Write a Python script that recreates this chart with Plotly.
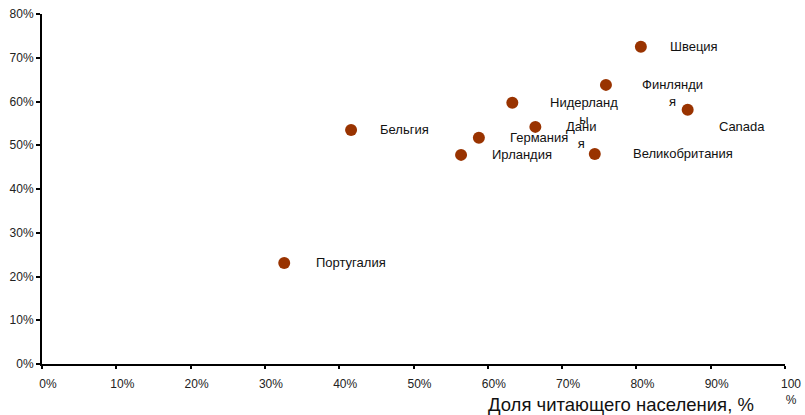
import plotly.graph_objects as go

countries = ["Португалия", "Бельгия", "Ирландия", "Германия", "Нидерланды",
             "Дания", "Великобритания", "Финляндия", "Швеция", "Canada"]
label_text = ["Португалия", "Бельгия", "Ирландия", "Германия", "Нидерланд<br>ы",
              "Дани<br>я", "Великобритания", "Финлянди<br>я", "Швеция", "Canada"]
reading_share = [32.6, 41.6, 56.4, 58.8, 63.3, 66.4, 74.4, 75.9, 80.6, 86.9]
y_values = [23.1, 53.5, 47.8, 51.7, 59.7, 54.2, 48.0, 63.8, 72.5, 58.1]

x_ticks = [0, 10, 20, 30, 40, 50, 60, 70, 80, 90, 100]
x_ticktext = ["0%", "10%", "20%", "30%", "40%", "50%", "60%", "70%", "80%", "90%", "100<br>%"]
y_ticks = [0, 10, 20, 30, 40, 50, 60, 70, 80]
y_ticktext = ["0%", "10%", "20%", "30%", "40%", "50%", "60%", "70%", "80%"]

# label offsets in pixels (layout only)
label_dx = [31, 28, 30, 30, 37, 30, 37, 35, 28, 30]
label_dy = [0, 0, 0, 0, 0, 0, 0, 0, 0, -17]

FONT = "Liberation Sans, Arial, sans-serif"

fig = go.Figure()
fig.add_trace(go.Scatter(
    x=reading_share, y=y_values, mode="markers",
    marker=dict(color="#993300", size=12, line=dict(width=0)),
    text=countries, hoverinfo="text", showlegend=False,
))

for xv, yv, t, dx, dy in zip(reading_share, y_values, label_text, label_dx, label_dy):
    fig.add_annotation(
        x=xv, y=yv, xref="x", yref="y", text=t, showarrow=False,
        xanchor="left", yanchor="top", align="center",
        xshift=dx - 1, yshift=10 + dy,
        font=dict(family=FONT, size=13, color="#111111"),
    )

fig.add_annotation(
    x=0.779, y=-0.117, xref="paper", yref="paper",
    text="Доля читающего населения, %", showarrow=False,
    xanchor="center", yanchor="middle",
    font=dict(family=FONT, size=18.5, color="#111111"),
)

fig.update_layout(
    width=805, height=415,
    margin=dict(l=42, r=20, t=14, b=51),
    paper_bgcolor="white", plot_bgcolor="white",
    font=dict(family=FONT, size=12, color="#222222"),
    xaxis=dict(range=[0, 100], tickvals=x_ticks, ticktext=x_ticktext,
               automargin=False,
               showgrid=False, zeroline=False, showline=True,
               linecolor="black", linewidth=2, ticks="outside",
               ticklen=3, tickwidth=1.5, tickcolor="black",
               ticklabelshift=6, ticklabelstandoff=5,
               tickfont=dict(family=FONT, size=12, color="#222222")),
    yaxis=dict(range=[0, 80], tickvals=y_ticks, ticktext=y_ticktext,
               automargin=False,
               showgrid=False, zeroline=False, showline=True,
               linecolor="black", linewidth=2, ticks="outside",
               ticklen=4, tickwidth=1.5, tickcolor="black",
               tickfont=dict(family=FONT, size=12, color="#222222")),
)

fig.write_html("out.html", config={"displayModeBar": False},
               post_script="document.body.style.margin='0';document.body.style.overflow='hidden';")
